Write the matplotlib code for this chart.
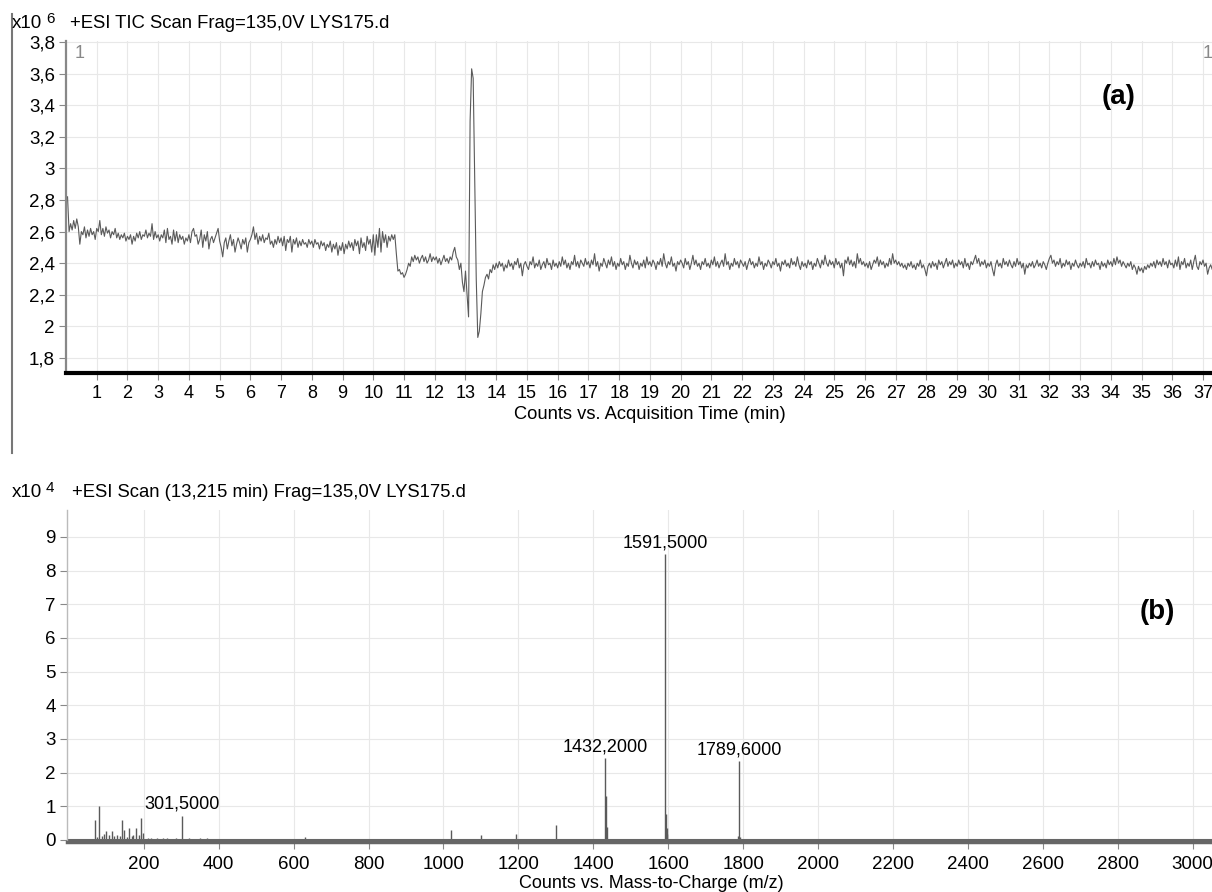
import numpy as np
import matplotlib
matplotlib.use('Agg')
import matplotlib.pyplot as plt
from matplotlib.lines import Line2D
from matplotlib.ticker import FuncFormatter, MultipleLocator

plt.rcParams['font.family'] = ['Liberation Sans', 'DejaVu Sans']

# --- (a) TIC, counts x10^6, one value every 0.05 min starting at 0.05 min ---
tic_start = 0.05
tic_step = 0.05
tic_counts = [
    2.82, 2.60, 2.65, 2.61, 2.67, 2.62, 2.68, 2.63, 2.52, 2.60, 2.58, 2.63, 2.56, 2.61, 2.57, 2.62, 2.58, 2.60, 2.55, 2.62,
    2.60, 2.67, 2.58, 2.62, 2.57, 2.63, 2.59, 2.61, 2.56, 2.60, 2.58, 2.62, 2.56, 2.59, 2.55, 2.58, 2.56, 2.59, 2.54, 2.57,
    2.55, 2.58, 2.52, 2.57, 2.54, 2.59, 2.56, 2.60, 2.55, 2.58, 2.57, 2.61, 2.56, 2.59, 2.57, 2.65, 2.55, 2.60, 2.56, 2.58,
    2.54, 2.58, 2.56, 2.61, 2.53, 2.62, 2.55, 2.57, 2.52, 2.61, 2.54, 2.60, 2.53, 2.58, 2.55, 2.57, 2.52, 2.56, 2.54, 2.58,
    2.53, 2.60, 2.62, 2.57, 2.58, 2.52, 2.55, 2.61, 2.50, 2.58, 2.54, 2.60, 2.49, 2.55, 2.57, 2.53, 2.56, 2.59, 2.62, 2.54,
    2.50, 2.44, 2.53, 2.56, 2.49, 2.54, 2.58, 2.51, 2.55, 2.47, 2.52, 2.56, 2.53, 2.49, 2.55, 2.52, 2.56, 2.47, 2.53, 2.55,
    2.58, 2.63, 2.55, 2.59, 2.52, 2.57, 2.54, 2.58, 2.53, 2.56, 2.55, 2.59, 2.52, 2.54, 2.50, 2.55, 2.52, 2.57, 2.53, 2.56,
    2.51, 2.57, 2.48, 2.55, 2.53, 2.57, 2.47, 2.55, 2.52, 2.56, 2.50, 2.54, 2.51, 2.55, 2.52, 2.53, 2.50, 2.55, 2.52, 2.54,
    2.50, 2.55, 2.52, 2.53, 2.49, 2.54, 2.51, 2.53, 2.48, 2.52, 2.50, 2.54, 2.47, 2.52, 2.49, 2.53, 2.45, 2.51, 2.48, 2.53,
    2.46, 2.52, 2.49, 2.54, 2.50, 2.53, 2.48, 2.55, 2.51, 2.54, 2.46, 2.56, 2.50, 2.53, 2.48, 2.57, 2.52, 2.55, 2.47, 2.58,
    2.45, 2.58, 2.50, 2.62, 2.47, 2.60, 2.53, 2.58, 2.50, 2.57, 2.54, 2.58, 2.55, 2.58, 2.46, 2.35, 2.36, 2.33, 2.34, 2.31,
    2.33, 2.36, 2.40, 2.38, 2.44, 2.41, 2.45, 2.42, 2.44, 2.40, 2.43, 2.45, 2.41, 2.44, 2.40, 2.42, 2.46, 2.41, 2.44, 2.42,
    2.44, 2.40, 2.43, 2.39, 2.42, 2.45, 2.41, 2.43, 2.40, 2.44, 2.42, 2.47, 2.50, 2.44, 2.42, 2.36, 2.40, 2.28, 2.22, 2.35,
    2.20, 2.06, 3.30, 3.63, 3.57, 2.95, 2.30, 1.93, 1.97, 2.08, 2.22, 2.26, 2.31, 2.33, 2.30, 2.36, 2.34, 2.39, 2.36, 2.40,
    2.37, 2.41, 2.38, 2.40, 2.35, 2.39, 2.37, 2.42, 2.38, 2.40, 2.36, 2.41, 2.39, 2.43, 2.37, 2.40, 2.32, 2.39, 2.41, 2.38,
    2.36, 2.41, 2.39, 2.44, 2.37, 2.40, 2.38, 2.42, 2.36, 2.39, 2.41, 2.37, 2.43, 2.39, 2.40, 2.36, 2.42, 2.38, 2.40, 2.37,
    2.41, 2.38, 2.44, 2.39, 2.42, 2.37, 2.40, 2.36, 2.41, 2.39, 2.45, 2.38, 2.41, 2.37, 2.42, 2.40, 2.38, 2.43, 2.39, 2.41,
    2.37, 2.42, 2.39, 2.46, 2.38, 2.41, 2.35, 2.40, 2.38, 2.43, 2.40, 2.37, 2.42, 2.39, 2.44, 2.38, 2.41, 2.36, 2.40, 2.38,
    2.43, 2.39, 2.41, 2.36, 2.40, 2.38, 2.45, 2.40, 2.37, 2.42, 2.39, 2.41, 2.36, 2.40, 2.38, 2.42, 2.37, 2.44, 2.39, 2.41,
    2.38, 2.42, 2.40, 2.36, 2.41, 2.39, 2.43, 2.38, 2.46, 2.40, 2.37, 2.41, 2.39, 2.44, 2.38, 2.40, 2.35, 2.41, 2.39, 2.42,
    2.40, 2.37, 2.43, 2.39, 2.41, 2.36, 2.40, 2.45, 2.39, 2.42, 2.38, 2.40, 2.36, 2.41, 2.39, 2.43, 2.38, 2.40, 2.37, 2.42,
    2.39, 2.44, 2.38, 2.41, 2.37, 2.40, 2.42, 2.38, 2.46, 2.39, 2.41, 2.36, 2.40, 2.38, 2.43, 2.39, 2.41, 2.37, 2.42, 2.40,
    2.38, 2.41, 2.36, 2.40, 2.43, 2.39, 2.41, 2.37, 2.40, 2.38, 2.44, 2.39, 2.41, 2.36, 2.40, 2.38, 2.42, 2.40, 2.37, 2.41,
    2.39, 2.43, 2.38, 2.40, 2.35, 2.41, 2.39, 2.42, 2.38, 2.40, 2.37, 2.43, 2.39, 2.41, 2.38, 2.44, 2.39, 2.36, 2.41, 2.38,
    2.40, 2.37, 2.42, 2.39, 2.41, 2.36, 2.40, 2.38, 2.43, 2.40, 2.37, 2.42, 2.39, 2.45, 2.40, 2.38, 2.42, 2.39, 2.41, 2.37,
    2.43, 2.39, 2.41, 2.37, 2.40, 2.32, 2.42, 2.40, 2.44, 2.39, 2.42, 2.38, 2.41, 2.37, 2.46, 2.40, 2.43, 2.39, 2.41, 2.38,
    2.40, 2.37, 2.41, 2.36, 2.39, 2.42, 2.40, 2.44, 2.38, 2.42, 2.39, 2.41, 2.37, 2.40, 2.38, 2.43, 2.39, 2.46, 2.40, 2.42,
    2.39, 2.41, 2.38, 2.40, 2.37, 2.39, 2.36, 2.40, 2.38, 2.41, 2.37, 2.39, 2.36, 2.40, 2.38, 2.42, 2.37, 2.39, 2.36, 2.32,
    2.38, 2.40, 2.37, 2.41, 2.38, 2.40, 2.36, 2.42, 2.39, 2.41, 2.37, 2.40, 2.43, 2.38, 2.41, 2.39, 2.42, 2.37, 2.40, 2.38,
    2.42, 2.39, 2.41, 2.37, 2.43, 2.38, 2.40, 2.36, 2.41, 2.39, 2.42, 2.45, 2.40, 2.43, 2.38, 2.41, 2.39, 2.42, 2.37, 2.40,
    2.38, 2.41, 2.36, 2.32, 2.39, 2.42, 2.38, 2.40, 2.37, 2.43, 2.39, 2.41, 2.38, 2.42, 2.39, 2.37, 2.41, 2.38, 2.43, 2.39,
    2.41, 2.37, 2.40, 2.33, 2.39, 2.37, 2.40, 2.38, 2.41, 2.37, 2.39, 2.42, 2.38, 2.40, 2.37, 2.41, 2.39, 2.36, 2.40, 2.43,
    2.45, 2.40, 2.42, 2.38, 2.41, 2.39, 2.43, 2.37, 2.40, 2.38, 2.42, 2.39, 2.41, 2.36, 2.40, 2.38, 2.42, 2.39, 2.37, 2.40,
    2.38, 2.41, 2.37, 2.43, 2.39, 2.40, 2.37, 2.41, 2.38, 2.42, 2.39, 2.40, 2.36, 2.41, 2.38, 2.40, 2.37, 2.42, 2.39, 2.41,
    2.38, 2.43, 2.39, 2.44, 2.40, 2.42, 2.38, 2.41, 2.39, 2.37, 2.40, 2.38, 2.41, 2.36, 2.39, 2.37, 2.33, 2.38, 2.35, 2.37,
    2.34, 2.38, 2.36, 2.39, 2.37, 2.40, 2.38, 2.41, 2.37, 2.42, 2.39, 2.41, 2.38, 2.43, 2.39, 2.41, 2.37, 2.42, 2.39, 2.40,
    2.37, 2.42, 2.38, 2.44, 2.36, 2.41, 2.39, 2.43, 2.37, 2.40, 2.38, 2.42, 2.36, 2.41, 2.45, 2.38, 2.36, 2.41, 2.39, 2.42,
    2.38, 2.40, 2.33, 2.37, 2.39, 2.36, 2.38,
]
tic_time = tic_start + tic_step * np.arange(len(tic_counts))

# --- (b) mass spectrum at 13,215 min, counts x10^4 ---
ms_mz = [69, 75, 81, 88, 95, 100, 106, 114, 120, 128, 136, 143, 147, 154, 161,
         168, 172, 179, 186, 193, 197, 210, 220, 235, 250, 262, 285, 301.5, 320,
         350, 370, 630, 1020, 1100, 1195, 1300, 1432.2, 1434, 1436, 1591.5, 1593,
         1596, 1598, 1787, 1789.6, 1791]
ms_int = [0.59, 0.10, 1.02, 0.12, 0.18, 0.26, 0.15, 0.26, 0.12, 0.14, 0.12, 0.59,
          0.30, 0.10, 0.35, 0.12, 0.15, 0.37, 0.14, 0.66, 0.20, 0.06, 0.07, 0.06,
          0.05, 0.06, 0.05, 0.72, 0.06, 0.05, 0.05, 0.08, 0.30, 0.15, 0.17, 0.45,
          2.44, 1.30, 0.40, 8.49, 0.78, 0.35, 0.18, 0.12, 2.35, 0.10]
ms_labels = {301.5: '301,5000', 1432.2: '1432,2000', 1591.5: '1591,5000', 1789.6: '1789,6000'}

W, H = 1212, 892
fig = plt.figure(figsize=(W / 100, H / 100), dpi=100)

line_col = '#5a5a5a'
grid_col = '#e8e8e8'
tick_col = '#888888'


def comma_fmt(v, pos):
    s = f'{v:.1f}'.replace('.', ',')
    return s[:-2] if s.endswith(',0') else s


# ---------- panel (a) ----------
ax1 = fig.add_axes([66 / W, 1 - 373 / H, (W - 66) / W, (373 - 41) / H])
ax1.plot(tic_time, tic_counts, color=line_col, lw=0.8)
ax1.set_xlim(0, (W - 66) / 30.73)
ax1.set_ylim(1.705, 3.806)
ax1.set_xticks(range(1, 38))
ax1.yaxis.set_major_locator(MultipleLocator(0.2))
ax1.yaxis.set_major_formatter(FuncFormatter(comma_fmt))
ax1.grid(True, color=grid_col, lw=0.8)
ax1.set_axisbelow(True)
ax1.tick_params(axis='x', labelsize=13, length=5, color=tick_col, pad=4)
ax1.tick_params(axis='y', labelsize=13.5, length=5, color=tick_col, pad=3)
for s in ['top', 'right']:
    ax1.spines[s].set_visible(False)
ax1.spines['left'].set_color('#888888')
ax1.spines['left'].set_linewidth(1.6)
ax1.spines['bottom'].set_color('black')
ax1.spines['bottom'].set_linewidth(3)

fig.text(12 / W, 1 - 23 / H, 'x10', fontsize=13.5, va='center')
fig.text(46 / W, 1 - 19 / H, '6', fontsize=11, va='center')
fig.text(70 / W, 1 - 23 / H, '+ESI TIC Scan Frag=135,0V LYS175.d', fontsize=13.3, va='center')
fig.text(75 / W, 1 - 53 / H, '1', fontsize=13, color='#888888', va='center')
fig.text(1203 / W, 1 - 53 / H, '1', fontsize=13, color='#888888', va='center')
fig.text(1119 / W, 1 - 97 / H, '(a)', fontsize=20, fontweight='bold', ha='center', va='center')
fig.text(650 / W, 1 - 415 / H, 'Counts vs. Acquisition Time (min)', fontsize=13.2, ha='center', va='center')

# left frame line
fig.add_artist(Line2D([12 / W, 12 / W], [1 - 14 / H, 1 - 453 / H], color='#777777', lw=1.5))

# ---------- panel (b) ----------
ax2 = fig.add_axes([67 / W, 1 - 842 / H, (W - 67) / W, (842 - 510) / H])
ax2.vlines(ms_mz, 0, ms_int, color=line_col, lw=1)
ax2.axhline(0, color='#666666', lw=1.5)
for mz, txt in ms_labels.items():
    h = ms_int[ms_mz.index(mz)]
    ax2.annotate(txt, (mz, h), xytext=(0, 2), textcoords='offset points',
                 ha='center', va='bottom', fontsize=13)
ax2.set_xlim(-5, 3052)
ax2.set_ylim(-0.06, 9.8)
ax2.set_xticks(range(200, 3001, 200))
ax2.set_yticks(range(0, 10))
ax2.grid(True, color=grid_col, lw=0.8)
ax2.set_axisbelow(True)
ax2.tick_params(axis='x', labelsize=13.5, length=5, color=tick_col, pad=5)
ax2.tick_params(axis='y', labelsize=13.5, length=5, color=tick_col, pad=3)
for s in ['top', 'right']:
    ax2.spines[s].set_visible(False)
ax2.spines['left'].set_color('#bbbbbb')
ax2.spines['left'].set_linewidth(1)
ax2.spines['bottom'].set_color('#666666')
ax2.spines['bottom'].set_linewidth(2.5)

fig.text(12 / W, 1 - 492 / H, 'x10', fontsize=13.5, va='center')
fig.text(46 / W, 1 - 488 / H, '4', fontsize=11, va='center')
fig.text(72 / W, 1 - 492 / H, '+ESI Scan (13,215 min) Frag=135,0V LYS175.d', fontsize=13.3, va='center')
fig.text(1157 / W, 1 - 612 / H, '(b)', fontsize=20, fontweight='bold', ha='center', va='center')
fig.text(651 / W, 1 - 884 / H, 'Counts vs. Mass-to-Charge (m/z)', fontsize=13, ha='center', va='center')

fig.savefig('out.png', dpi=100)
